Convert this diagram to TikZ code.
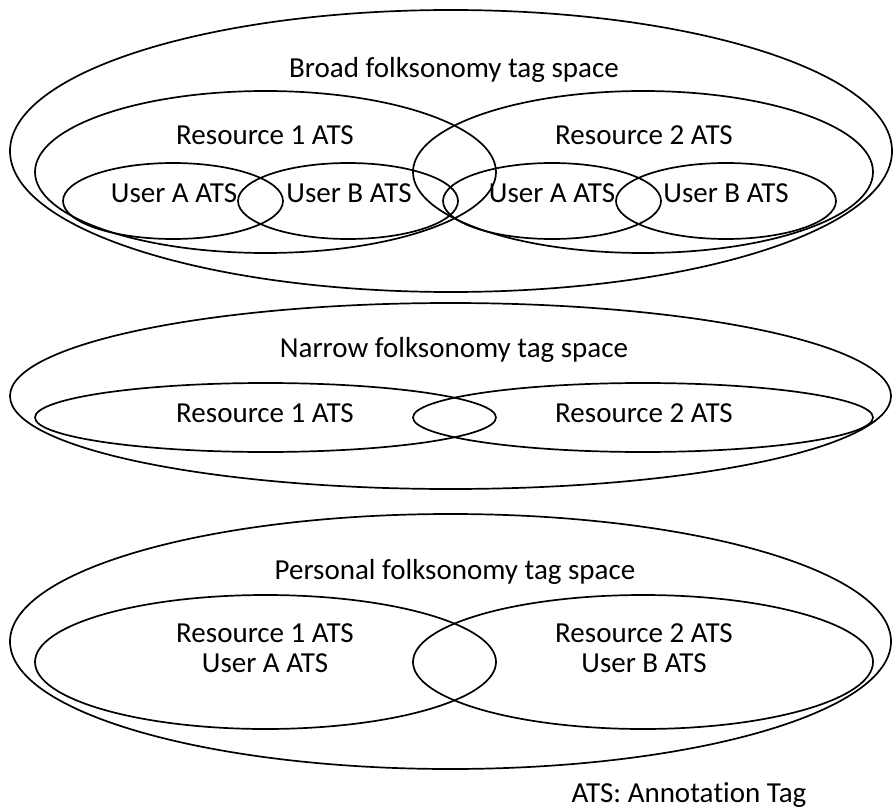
\documentclass[tikz,border=0pt]{standalone}
\usepackage{fontspec}
\setmainfont[RawFeature={-liga;-clig;-dlig}]{Carlito}
\usetikzlibrary{shapes.geometric}
\begin{document}
\begin{tikzpicture}[x=1pt,y=-1pt,
  set/.style={ellipse,draw,line width=1.7pt,inner sep=0pt,outer sep=0pt},
  lbl/.style={inner sep=0pt,align=center,font=\fontsize{29}{30}\selectfont}]
\useasboundingbox (0,0) rectangle (893,810);

% Broad folksonomy
\node[set,minimum width=882pt,minimum height=282pt] (broad) at (451,151) {};
\node[set,minimum width=461pt,minimum height=162pt] (bres1) at (265.5,172) {};
\node[set,minimum width=460pt,minimum height=162pt] (bres2) at (643,172) {};
\node[set,minimum width=220pt,minimum height=76pt] (bua1) at (173,201) {};
\node[set,minimum width=220pt,minimum height=76pt] (bub1) at (348,201) {};
\node[set,minimum width=218pt,minimum height=76pt] (bua2) at (552,201) {};
\node[set,minimum width=220pt,minimum height=76pt] (bub2) at (726,201) {};
\node[lbl] (tbroad) at (454,70) {Broad folksonomy tag space};
\node[lbl] (tbres1) at (265,135) {Resource 1 ATS};
\node[lbl] (tbres2) at (644,135) {Resource 2 ATS};
\node[lbl] (tbua1) at (174,193) {User A ATS};
\node[lbl] (tbub1) at (349,193) {User B ATS};
\node[lbl] (tbua2) at (552,193) {User A ATS};
\node[lbl] (tbub2) at (726,193) {User B ATS};

% Narrow folksonomy
\node[set,minimum width=881pt,minimum height=186pt] (narrow) at (450.5,396) {};
\node[set,minimum width=461pt,minimum height=69pt] (nres1) at (265.5,417.5) {};
\node[set,minimum width=460pt,minimum height=69pt] (nres2) at (643,417.5) {};
\node[lbl] (tnarrow) at (454,350) {Narrow folksonomy tag space};
\node[lbl] (tnres1) at (265,413) {Resource 1 ATS};
\node[lbl] (tnres2) at (644,413) {Resource 2 ATS};

% Personal folksonomy
\node[set,minimum width=881pt,minimum height=255pt] (personal) at (450.5,641.5) {};
\node[set,minimum width=461pt,minimum height=134pt] (pres1) at (265.5,662) {};
\node[set,minimum width=460pt,minimum height=134pt] (pres2) at (643,662) {};
\node[lbl] (tpersonal) at (455,572) {Personal folksonomy tag space};
\node[lbl] (tpres1) at (265,648) {Resource 1 ATS\\User A ATS};
\node[lbl] (tpres2) at (644,648) {Resource 2 ATS\\User B ATS};

% Legend
\node[lbl] (legend) at (689,795) {ATS: Annota\kern0pt tion Tag};
\end{tikzpicture}
\end{document}
